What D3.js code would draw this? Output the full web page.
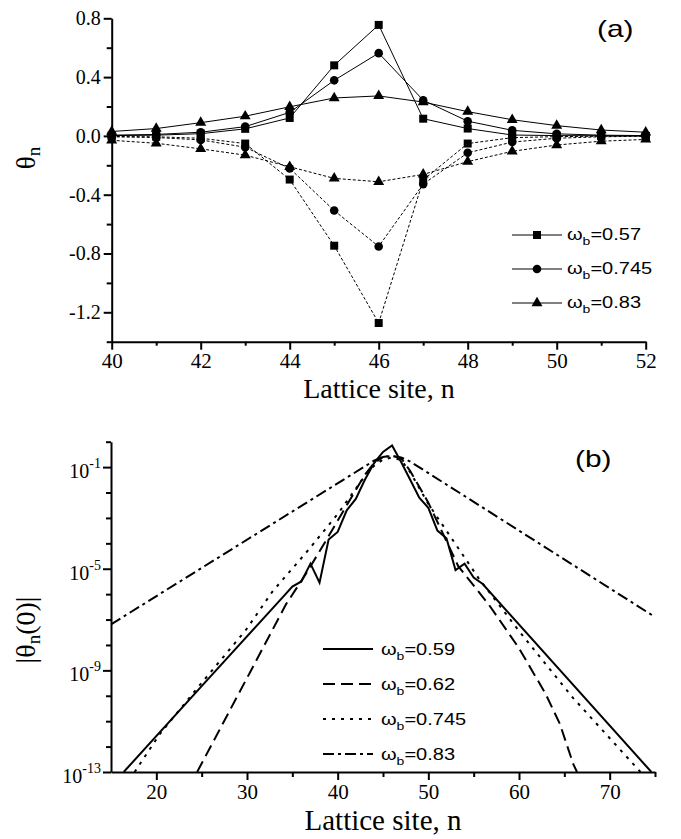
<!DOCTYPE html>
<html><head><meta charset="utf-8">
<script src="https://cdn.jsdelivr.net/npm/d3@7/dist/d3.min.js"></script>
<style>html,body{margin:0;padding:0;background:#fff}svg{display:block}</style>
</head><body>
<svg id="chart" width="681" height="839"></svg>
<script>
// ---------------- Panel (a) data ----------------
const sitesA = [40,41,42,43,44,45,46,47,48,49,50,51,52];
const sq057Pos  = [0.002,0.005,0.015,0.048,0.122,0.48,0.755,0.117,0.05,0.006,0.002,0.001,0.0];
const sq057Neg  = [-0.004,-0.006,-0.016,-0.052,-0.297,-0.747,-1.273,-0.300,-0.052,-0.012,-0.005,-0.002,-0.001];
const ci0745Pos = [0.005,0.01,0.025,0.063,0.16,0.378,0.563,0.243,0.10,0.038,0.014,0.005,0.002];
const ci0745Neg = [-0.006,-0.011,-0.027,-0.077,-0.221,-0.508,-0.752,-0.328,-0.115,-0.042,-0.016,-0.006,-0.002];
const tr083Pos  = [0.03,0.05,0.09,0.134,0.198,0.258,0.272,0.23,0.165,0.11,0.07,0.04,0.025];
const tr083Neg  = [-0.03,-0.05,-0.088,-0.131,-0.21,-0.289,-0.312,-0.262,-0.175,-0.105,-0.062,-0.036,-0.024];
const legendA = ["0.57","0.745","0.83"];
const xTicksA = [40,42,44,46,48,50,52];
const xMinorA = [41,43,45,47,49,51];
const yTicksA = [0.8,0.4,0.0,-0.4,-0.8,-1.2];
const yMinorA = [0.6,0.2,-0.2,-0.6,-1.0,-1.4];

// ---------------- Panel (b) data (site n, log10|theta_n(0)|) ----------------
const n059   = [16.4,24.8,34,35,36,37,38,39,40,41,42,43,44,45,46,47,48,49,50,51,52,53,54,55,56,74.6];
const lg059  = [-13,-9.7,-6.1,-5.7,-5.5,-4.8,-5.55,-3.85,-3.55,-2.7,-2.25,-1.5,-0.85,-0.4,-0.15,-0.8,-1.5,-2.2,-2.6,-3.5,-3.8,-5.05,-4.8,-5.35,-5.6,-13];
const n062   = [24.5,30.3,34.3,36.5,38.7,41,43,44,45,46,47,48,50,53.3,56.65,59.95,62.9,64.5,66,66.4];
const lg062  = [-13,-9.1,-6.4,-5.2,-3.9,-2.5,-1.3,-0.85,-0.6,-0.55,-0.65,-1.15,-2.4,-4.9,-6.4,-8.1,-9.9,-11.1,-12.7,-13];
const n0745  = [17.6,20.4,24.4,29.9,32.8,36.8,40.1,43.1,44,45,46,47,48,50,55.5,60,66,73.4];
const lg0745 = [-13,-11.5,-9.75,-7.4,-5.9,-4.25,-2.8,-1.3,-0.95,-0.7,-0.62,-0.72,-1.2,-2.45,-5.35,-7.45,-10.1,-13];
const n083   = [15,44,45,46,47,48,75];
const lg083  = [-7.19,-0.75,-0.6,-0.56,-0.62,-0.78,-6.9];
const legendB = ["0.59","0.62","0.745","0.83"];
const xTicksB = [20,30,40,50,60,70];
const xMinorB = [25,35,45,55,65,75];
const yLabelExpB = [-1,-5,-9,-13];
const yAllExpB = d3.range(0,-14,-1);

// ---------------- helpers ----------------
const svg = d3.select("#chart");
const SERIF = "'Liberation Serif','Times New Roman',Times,serif";
const SANS  = "'Liberation Sans',Arial,Helvetica,sans-serif";

function styleAxis(g, fs){
  g.attr("font-family", SERIF).attr("font-size", fs);
  g.select(".domain").attr("stroke","#000").attr("stroke-width",2);
  g.selectAll(".tick line").attr("stroke","#000").attr("stroke-width",2);
  g.selectAll(".tick text").attr("fill","#000");
}
function minor(g){ g.select(".domain").remove(); g.selectAll(".tick line").attr("stroke","#000").attr("stroke-width",2); }
function sansText(x, y, k, fs){
  return svg.append("g").attr("transform",`translate(${x},${y}) scale(${k},1)`)
    .append("text").attr("font-family",SANS).attr("font-size",fs).attr("fill","#000");
}
function omegaLabel(t, val, fs){
  t.append("tspan").text("ω");
  t.append("tspan").attr("font-size",fs*0.7).attr("dy",fs*0.3).text("b");
  t.append("tspan").attr("dy",-fs*0.3).text("=" + val);
}
const fmtA = d => d3.format(".1f")(d).replace("−","-");

// ================= Panel (a) =================
const xA = d3.scaleLinear().domain([40,52]).range([111.7,645.7]);
const yA = d3.scaleLinear().domain([-1.4,0.8]).range([341.7,18.3]);

svg.append("g").attr("transform",`translate(0,${yA(-1.4)})`)
  .call(d3.axisBottom(xA).tickValues(xMinorA).tickSize(4).tickFormat("")).call(minor);
svg.append("g").attr("transform",`translate(${xA(40)},0)`)
  .call(d3.axisLeft(yA).tickValues(yMinorA).tickSize(5).tickFormat("")).call(minor);
svg.append("g").attr("transform",`translate(0,${yA(-1.4)})`)
  .call(d3.axisBottom(xA).tickValues(xTicksA).tickSize(8).tickSizeOuter(0).tickPadding(3).tickFormat(d3.format("d")))
  .call(g=>styleAxis(g,21));
svg.append("g").attr("transform",`translate(${xA(40)},0)`)
  .call(d3.axisLeft(yA).tickValues(yTicksA).tickSize(8).tickSizeOuter(0).tickPadding(3).tickFormat(fmtA))
  .call(g=>styleAxis(g,20));

const seriesA = [
  {label:legendA[0], pos:sq057Pos,  neg:sq057Neg,  sym:d3.symbolSquare,   size:64},
  {label:legendA[1], pos:ci0745Pos, neg:ci0745Neg, sym:d3.symbolCircle,   size:58},
  {label:legendA[2], pos:tr083Pos,  neg:tr083Neg,  sym:d3.symbolTriangle, size:52}
];
const gA = svg.append("g");
seriesA.forEach(s=>{
  ["pos","neg"].forEach(br=>{
    const vals = s[br];
    const line = d3.line().x((d,i)=>xA(sitesA[i])).y(d=>yA(d));
    gA.append("path").attr("d",line(vals)).attr("fill","none").attr("stroke","#000")
      .attr("stroke-width",1).attr("stroke-dasharray", br==="neg" ? "3,2" : null);
  });
});
seriesA.forEach(s=>{
  ["pos","neg"].forEach(br=>{
    gA.selectAll(null).data(s[br]).enter().append("path")
      .attr("d", d3.symbol().type(s.sym).size(s.size))
      .attr("transform",(d,i)=>`translate(${xA(sitesA[i])},${yA(d)})`)
      .attr("fill","#000");
  });
});
// legend (a)
seriesA.forEach((s,i)=>{
  const y = 235 + i*34;
  svg.append("line").attr("x1",512).attr("x2",562).attr("y1",y).attr("y2",y).attr("stroke","#000").attr("stroke-width",1);
  svg.append("path").attr("d",d3.symbol().type(s.sym).size(s.size)).attr("transform",`translate(537,${y})`).attr("fill","#000");
  const t = sansText(567, y+5, 1.25, 16);
  omegaLabel(t, s.label, 16);
});
sansText(597, 37, 1.3, 23).text("(a)");

// axis titles (a)
svg.append("text").attr("transform","translate(35,158) rotate(-90)").attr("text-anchor","middle")
  .attr("font-family",SERIF).attr("font-size",27).attr("fill","#000")
  .call(t=>{ t.append("tspan").text("θ"); t.append("tspan").attr("font-size",19).attr("dy",5).text("n"); });
svg.append("text").attr("x",379).attr("y",398).attr("text-anchor","middle")
  .attr("font-family",SERIF).attr("font-size",28).attr("fill","#000").text("Lattice site, n");

// ================= Panel (b) =================
const xB = d3.scaleLinear().domain([15,75]).range([111,655]);
const yB = d3.scaleLog().domain([1e-13,1]).range([772,441.7]);

svg.append("g").attr("transform",`translate(0,${yB(1e-13)})`)
  .call(d3.axisBottom(xB).tickValues(xMinorB).tickSize(5).tickFormat("")).call(minor);
svg.append("g").attr("transform",`translate(${xB(15)},0)`)
  .call(d3.axisLeft(yB).tickValues(yAllExpB.filter(e=>!yLabelExpB.includes(e)).map(e=>Math.pow(10,e))).tickSize(5).tickFormat("")).call(minor);
svg.append("g").attr("transform",`translate(0,${yB(1e-13)})`)
  .call(d3.axisBottom(xB).tickValues(xTicksB).tickSize(8).tickSizeOuter(0).tickPadding(4).tickFormat(d3.format("d")))
  .call(g=>styleAxis(g,21));
svg.append("g").attr("transform",`translate(${xB(15)},0)`)
  .call(d3.axisLeft(yB).tickValues(yLabelExpB.map(e=>Math.pow(10,e))).tickSize(8).tickSizeOuter(0).tickFormat(""))
  .call(g=>styleAxis(g,20));
yLabelExpB.forEach(e=>{
  const t = svg.append("text").attr("x",101).attr("y",yB(Math.pow(10,e))+11).attr("text-anchor","end")
    .attr("font-family",SERIF).attr("font-size",20).attr("fill","#000");
  t.append("tspan").text("10");
  t.append("tspan").attr("font-size",14).attr("dy",-10).text("-" + Math.abs(e));
});

svg.append("clipPath").attr("id","clipB").append("rect")
  .attr("x",xB(15)).attr("y",yB(1)-5).attr("width",xB(75)-xB(15)).attr("height",yB(1e-13)-yB(1)+5);

const seriesB = [
  {label:legendB[0], n:n059,  lg:lg059,  dash:null},
  {label:legendB[1], n:n062,  lg:lg062,  dash:"12,6"},
  {label:legendB[2], n:n0745, lg:lg0745, dash:"3,6"},
  {label:legendB[3], n:n083,  lg:lg083,  dash:"11,4,3,4"}
];
const gB = svg.append("g").attr("clip-path","url(#clipB)");
seriesB.forEach(s=>{
  const line = d3.line().x((d,i)=>xB(s.n[i])).y(d=>yB(Math.pow(10,d)));
  gB.append("path").attr("d",line(s.lg)).attr("fill","none").attr("stroke","#000")
    .attr("stroke-width",2).attr("stroke-dasharray",s.dash);
});
seriesB.forEach((s,i)=>{
  const y = 649 + i*35;
  svg.append("line").attr("x1",323).attr("x2",373).attr("y1",y).attr("y2",y)
    .attr("stroke","#000").attr("stroke-width",2).attr("stroke-dasharray",s.dash);
  const t = sansText(381, y+6, 1.25, 16);
  omegaLabel(t, s.label, 16);
});
sansText(575, 467, 1.3, 23).text("(b)");

svg.append("text").attr("transform","translate(35,630) rotate(-90)").attr("text-anchor","middle")
  .attr("font-family",SERIF).attr("font-size",28).attr("fill","#000")
  .call(t=>{ t.append("tspan").text("|θ");
             t.append("tspan").attr("font-size",19).attr("dy",5).text("n");
             t.append("tspan").attr("dy",-5).text("(0)|"); });
svg.append("text").attr("x",383).attr("y",830).attr("text-anchor","middle")
  .attr("font-family",SERIF).attr("font-size",29).attr("fill","#000").text("Lattice site, n");
</script>
</body></html>
